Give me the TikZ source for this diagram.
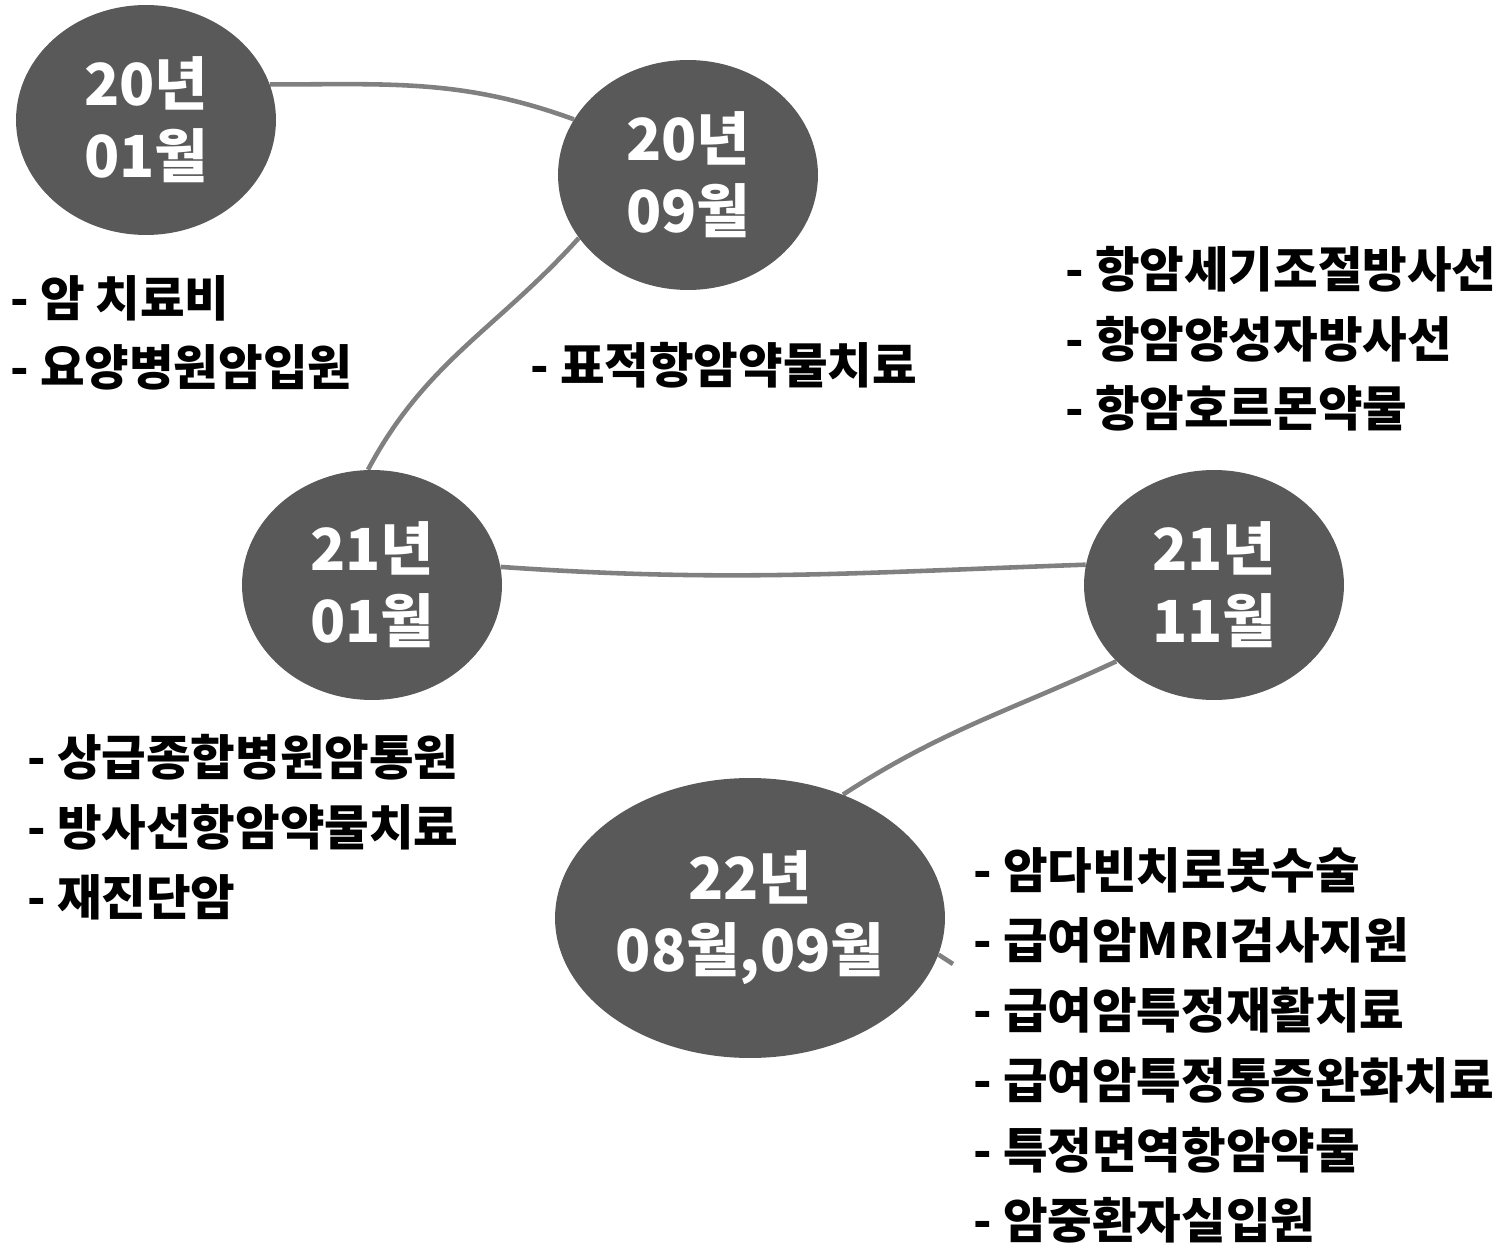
\documentclass[tikz,border=0pt]{standalone}
\usepackage{fontspec}
\setmainfont{Noto Sans CJK KR}
\usetikzlibrary{shapes.geometric,backgrounds}
\definecolor{bubble}{HTML}{595959}
\definecolor{wire}{HTML}{808080}
\tikzset{
  bubble/.style={ellipse, fill=bubble, text=white, inner sep=0pt, align=center,
    font=\fontsize{33pt}{41pt}\selectfont\bfseries},
  wire/.style={draw=wire, line width=2.6pt},
  note/.style={anchor=base west, inner sep=0pt, align=left, text=black,
    font=\fontsize{27.6pt}{39.8pt}\selectfont\bfseries}
}
\begin{document}
\begin{tikzpicture}[x=0.02cm, y=-0.02cm]
\useasboundingbox (0,0) rectangle (1505,1256);
\node[bubble, minimum width=5.2cm, minimum height=4.6cm] (A) at (146,120) {20년\\01월};
\node[bubble, minimum width=5.2cm, minimum height=4.6cm] (B) at (688,175) {20년\\09월};
\node[bubble, minimum width=5.2cm, minimum height=4.6cm] (C) at (372,585) {21년\\01월};
\node[bubble, minimum width=5.2cm, minimum height=4.6cm] (D) at (1214,585) {21년\\11월};
\node[bubble, minimum width=7.8cm, minimum height=5.6cm] (E) at (750,918) {22년\\08월,09월};
\coordinate (S) at (953,964);
\begin{scope}[on background layer]
\draw[wire] (A.16) to[out=0, in=160] (B.154);
\draw[wire] (B.210) to[out=228, in=62] (C.92);
\draw[wire] (C.8) to[out=-4, in=182] (D.171);
\draw[wire] (D.218) to[out=205, in=33] (E.53);
\draw[wire] (E.-11) -- (S);
\end{scope}
\node[note] (n1) at (10,386) {- 암 치료비\\- 요양병원암입원};
\node[note] (n2) at (530,384) {- 표적항암약물치료};
\node[note] (n3) at (1065,427) {- 항암세기조절방사선\\- 항암양성자방사선\\- 항암호르몬약물};
\node[note] (n4) at (27,915) {- 상급종합병원암통원\\- 방사선항암약물치료\\- 재진단암};
\node[note] (n5) at (973,1238) {- 암다빈치로봇수술\\- 급여암MRI검사지원\\- 급여암특정재활치료\\- 급여암특정통증완화치료\\- 특정면역항암약물\\- 암중환자실입원};
\end{tikzpicture}
\end{document}
